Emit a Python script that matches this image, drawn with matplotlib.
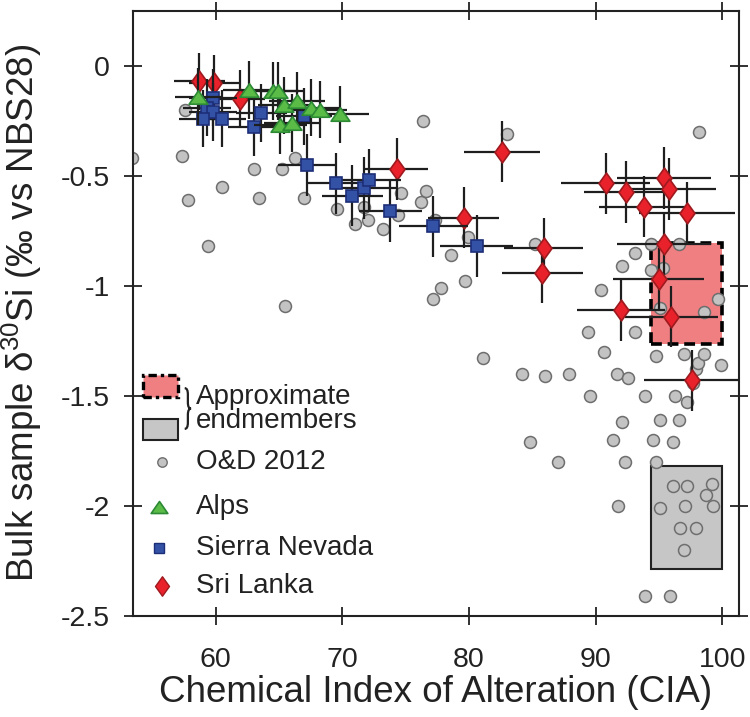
import matplotlib
matplotlib.use("Agg")
import matplotlib.pyplot as plt
from matplotlib.patches import Rectangle, PathPatch
from matplotlib.path import Path
import numpy as np

plt.rcParams['font.family'] = ['Liberation Sans', 'DejaVu Sans']
plt.rcParams['axes.unicode_minus'] = False
plt.rcParams['mathtext.fontset'] = 'custom'
plt.rcParams['mathtext.rm'] = 'Liberation Sans'
plt.rcParams['mathtext.it'] = 'Liberation Sans:italic'

# ---------------- data ----------------
od_cia = [53.4, 57.3, 57.6, 57.8, 59.4, 60.5, 63.0, 63.4, 65.2, 65.5, 66.3, 67.0, 69.6,
          71.0, 71.7, 72.0, 73.2, 74.4, 74.6, 76.2, 76.6, 76.4, 77.3, 77.2, 77.8, 78.6,
          79.7, 79.9, 81.1, 83.0, 85.2, 84.2, 84.8, 86.0, 87.0, 87.9, 89.4, 89.6, 90.4,
          90.7, 91.4, 91.7, 91.8, 92.1, 92.1, 92.3, 92.6, 93.1, 93.1, 93.9, 93.9, 94.4,
          94.4, 94.5, 94.8, 94.8, 95.1, 95.1, 95.1, 95.3, 95.9, 96.1, 96.1, 96.3, 96.6,
          96.6, 96.7, 97.0, 97.0, 97.1, 97.2, 97.2, 97.7, 97.9, 97.9, 98.1, 98.2, 98.6,
          98.6, 98.7, 99.2, 99.3, 99.7, 99.9]
od_si = [-0.42, -0.41, -0.20, -0.61, -0.82, -0.55, -0.47, -0.60, -0.47, -1.09, -0.42, -0.60, -0.65,
         -0.72, -0.64, -0.70, -0.74, -0.68, -0.58, -0.62, -0.57, -0.25, -0.70, -1.06, -1.01, -0.86,
         -0.98, -0.78, -1.33, -0.31, -0.81, -1.40, -1.71, -1.41, -1.80, -1.40, -1.21, -1.50, -1.02,
         -1.30, -1.70, -1.40, -2.00, -0.91, -1.62, -1.80, -1.42, -0.85, -1.21, -1.50, -2.41, -0.81,
         -0.93, -1.70, -1.32, -1.80, -1.10, -1.61, -2.01, -0.92, -2.41, -1.71, -1.91, -1.50, -0.81,
         -1.61, -2.10, -1.31, -2.20, -2.00, -1.53, -1.91, -1.44, -1.38, -2.10, -1.35, -0.30, -1.12,
         -1.31, -1.95, -1.90, -2.00, -1.06, -1.36]

alps_cia = [58.6, 62.6, 64.5, 64.9, 65.4, 66.4, 67.5, 68.2, 69.8, 65.1, 66.0]
alps_si = [-0.14, -0.11, -0.115, -0.115, -0.18, -0.16, -0.19, -0.20, -0.22, -0.27, -0.26]
alps_xerr = [1.8, 2.0, 2.1, 2.1, 2.1, 2.2, 2.2, 2.2, 2.3, 2.1, 2.2]
alps_yerr = [0.13, 0.13, 0.13, 0.13, 0.13, 0.13, 0.13, 0.13, 0.13, 0.13, 0.13]

sn_cia = [59.8, 59.3, 59.8, 59.0, 60.5, 63.6, 63.0, 67.0, 67.2, 69.5, 70.8, 71.7, 72.1, 73.8, 77.2, 80.6]
sn_si = [-0.145, -0.19, -0.21, -0.24, -0.24, -0.215, -0.28, -0.23, -0.45, -0.535, -0.59, -0.555,
         -0.52, -0.66, -0.73, -0.82]
sn_xerr = [1.9, 1.9, 1.9, 1.9, 1.9, 2.0, 2.0, 2.2, 2.3, 2.3, 2.4, 2.5, 2.5, 2.5, 2.7, 2.9]
sn_yerr = [0.13, 0.13, 0.13, 0.13, 0.13, 0.13, 0.13, 0.13, 0.14, 0.14, 0.14, 0.14, 0.14, 0.14, 0.14, 0.14]

sl_cia = [58.7, 59.9, 61.9, 74.3, 79.6, 82.6, 85.9, 85.8, 90.8, 92.4, 93.8, 95.4, 95.8, 97.2,
          95.4, 95.0, 92.0, 96.0, 97.6]
sl_si = [-0.07, -0.08, -0.15, -0.47, -0.69, -0.39, -0.83, -0.94, -0.535, -0.575, -0.64, -0.51,
         -0.56, -0.67, -0.81, -0.97, -1.11, -1.14, -1.43]
sl_xerr = [2.0, 2.0, 2.0, 2.5, 2.8, 3.0, 3.1, 3.2, 3.5, 3.3, 3.5, 3.7, 3.7, 3.8, 3.7, 3.6, 3.5, 3.7, 3.8]
sl_yerr = [0.13, 0.13, 0.13, 0.14, 0.14, 0.14, 0.14, 0.14, 0.14, 0.14, 0.14, 0.14, 0.14, 0.14,
           0.14, 0.14, 0.14, 0.14, 0.14]

# endmember boxes: (x0, x1, y0, y1)
pink_box = (94.4, 100.0, -1.266, -0.807)
gray_box = (94.4, 100.0, -2.285, -1.82)

x_ticks = [60, 70, 80, 90, 100]
y_ticks = [0, -0.5, -1, -1.5, -2, -2.5]
y_ticklabels = ['0', '-0.5', '-1', '-1.5', '-2', '-2.5']

# ---------------- styles ----------------
RED, RED_E = '#E8212B', '#9E1A1F'
GRN, GRN_E = '#5BBB47', '#2C8A35'
BLU, BLU_E = '#3352A6', '#1D2E78'
GRY, GRY_E = '#C3C3C3', '#6E6E6E'
PINK = '#F07F82'
BARC = '#1E1E1E'
TXT = '#222222'

diamond = Path([(0, 1), (0.72, 0), (0, -1), (-0.72, 0), (0, 1)],
               [Path.MOVETO, Path.LINETO, Path.LINETO, Path.LINETO, Path.CLOSEPOLY])
tri = Path([(-1, -0.72), (1, -0.72), (0, 0.72), (-1, -0.72)],
           [Path.MOVETO, Path.LINETO, Path.LINETO, Path.CLOSEPOLY])

fig = plt.figure(figsize=(7.5, 7.17), dpi=100)
ax = fig.add_axes([0.1769, 0.1409, 0.8084, 0.8442])
ax.set_xlim(53.44, 101.33)
ax.set_ylim(-2.5, 0.25)

# boxes
ax.add_patch(Rectangle((pink_box[0], pink_box[2]), pink_box[1] - pink_box[0], pink_box[3] - pink_box[2],
                       facecolor=PINK, edgecolor='black', lw=2.6, ls=(0, (3, 1.6)), zorder=1))
ax.add_patch(Rectangle((gray_box[0], gray_box[2]), gray_box[1] - gray_box[0], gray_box[3] - gray_box[2],
                       facecolor='#C6C6C6', edgecolor=TXT, lw=1.5, zorder=1))

ax.plot(od_cia, od_si, 'o', ms=8.6, mfc=GRY, mec=GRY_E, mew=1.1, ls='none', zorder=2)

def series(x, y, xe, ye, marker, ms, fc, ec, z):
    ax.errorbar(x, y, xerr=xe, yerr=ye, fmt='none', ecolor=BARC, elinewidth=1.6, capsize=0, zorder=z)
    ax.plot(x, y, ls='none', marker=marker, ms=ms, mfc=fc, mec=ec, mew=1.2, zorder=z + 0.5)

series(sl_cia, sl_si, sl_xerr, sl_yerr, diamond, 15, RED, RED_E, 3)
series(sn_cia, sn_si, sn_xerr, sn_yerr, 's', 8.3, BLU, BLU_E, 4)
series(alps_cia, alps_si, alps_xerr, alps_yerr, tri, 13.5, GRN, GRN_E, 5)

# axes styling
for s in ax.spines.values():
    s.set_linewidth(1.5)
    s.set_color(TXT)
ax.set_xticks(x_ticks)
ax.set_yticks(y_ticks)
ax.set_yticklabels(y_ticklabels)
ax.tick_params(direction='inout', length=13, width=1.3, labelsize=20.5, colors=TXT,
               top=True, right=True, labeltop=False, labelright=False)
ax.tick_params(axis='x', pad=16)
ax.tick_params(axis='y', pad=10)
ax.set_xlabel('Chemical Index of Alteration (CIA)', fontsize=26.5, color=TXT, labelpad=1)
ax.set_ylabel('Bulk sample δ$^{\\mathrm{30}}$Si (‰ vs NBS28)', fontsize=26.5, color=TXT, labelpad=12)

# custom legend
ax.add_patch(Rectangle((54.23, -1.507), 2.82, 0.101, facecolor=PINK, edgecolor='black', lw=2.4,
                       ls=(0, (2.5, 1.2, 1, 1.2)), zorder=6))
ax.add_patch(Rectangle((54.23, -1.701), 2.78, 0.098, facecolor='#C6C6C6', edgecolor=TXT, lw=1.5, zorder=6))

# curly brace joining the two endmember boxes
bx0, bxm, bx1 = 57.55, 57.80, 58.05
byt, bym, byb, bd = -1.465, -1.558, -1.650, 0.028
brace = Path([(bx0, byt), (bxm, byt), (bxm, byt - bd),
              (bxm, bym + bd), (bxm, bym), (bx1, bym),
              (bxm, bym), (bxm, bym - bd),
              (bxm, byb + bd), (bxm, byb), (bx0, byb)],
             [Path.MOVETO, Path.CURVE3, Path.CURVE3,
              Path.LINETO, Path.CURVE3, Path.CURVE3,
              Path.CURVE3, Path.CURVE3,
              Path.LINETO, Path.CURVE3, Path.CURVE3])
ax.add_patch(PathPatch(brace, facecolor='none', edgecolor=TXT, lw=1.6, zorder=6))

leg_kw = dict(fontsize=20, va='center', ha='left', color=TXT, zorder=6)
ax.text(58.44, -1.505, 'Approximate', **leg_kw)
ax.text(58.44, -1.615, 'endmembers', **leg_kw)
ax.plot([55.73], [-1.80], 'o', ms=6.8, mfc=GRY, mec=GRY_E, mew=1.0, zorder=6)
ax.text(58.44, -1.80, 'O&D 2012', **leg_kw)
ax.plot([55.5], [-2.005], ls='none', marker=tri, ms=12, mfc=GRN, mec=GRN_E, mew=1.2, zorder=6)
ax.text(58.44, -2.005, 'Alps', **leg_kw)
ax.plot([55.55], [-2.19], 's', ms=6.5, mfc=BLU, mec=BLU_E, mew=1.0, zorder=6)
ax.text(58.44, -2.19, 'Sierra Nevada', **leg_kw)
ax.plot([55.73], [-2.365], ls='none', marker=diamond, ms=14, mfc=RED, mec=RED_E, mew=1.0, zorder=6)
ax.text(58.44, -2.365, 'Sri Lanka', **leg_kw)

fig.savefig('out.png', dpi=100)
